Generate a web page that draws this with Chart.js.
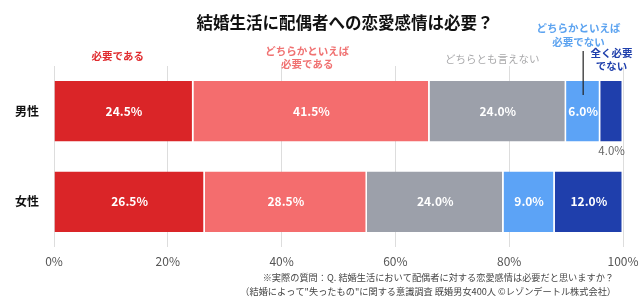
<!DOCTYPE html>
<html><head><meta charset="utf-8">
<script src="https://cdn.jsdelivr.net/npm/chart.js@4.4.1/dist/chart.umd.min.js"></script>
<style>html,body{margin:0;padding:0;background:#fff;}#wrap{width:640px;height:306px;position:relative;}</style>
</head><body><div id="wrap"><canvas id="c" width="640" height="306"></canvas></div>
<script>
const categories = ['男性', '女性'];
const seriesNames = ['必要である', 'どちらかといえば必要である', 'どちらとも言えない', 'どちらかといえば必要でない', '全く必要でない'];
const necessary = [24.5, 26.5];
const ratherNecessary = [41.5, 28.5];
const neither = [24.0, 24.0];
const ratherUnnecessary = [6.0, 9.0];
const notAtAll = [4.0, 12.0];
const tickValues = [0, 20, 40, 60, 80, 100];
const titleText = '結婚生活に配偶者への恋愛感情は必要？';
const noteLines = ['※実際の質問：Q. 結婚生活において配偶者に対する恋愛感情は必要だと思いますか？',
  '（結婚によって"失ったもの"に関する意識調査 既婚男女400人 ©レゾンデートル株式会社）'];

const colors = ['#da2528', '#f46d6e', '#9ca0aa', '#5ca3f6', '#1f3fac'];
const headerColors = ['#e02a2d', '#f07272', '#a9a9ab', '#5ca3f0', '#1f3fac'];
const FONT = '"Noto Sans CJK JP", "Noto Sans", sans-serif';

const seriesValues = [necessary, ratherNecessary, neither, ratherUnnecessary, notAtAll];

const datasets = seriesValues.map((vals, i) => ({
  label: seriesNames[i],
  data: vals,
  backgroundColor: colors[i],
  borderColor: '#ffffff',
  borderWidth: {top: 0, bottom: 0, left: 0, right: 1.5},
  borderSkipped: false,
  barPercentage: 0.667,
  categoryPercentage: 1.0
}));

// header label layout (x in axis %, y in px)
const headerLayout = [
  {lines: ['必要である'], x: 11.2, y: [56]},
  {lines: ['どちらかといえば', '必要である'], x: 44.5, y: [51, 64]},
  {lines: ['どちらとも言えない'], x: 77.0, y: [59]},
  {lines: ['どちらかといえば', '必要でない'], x: 92.2, y: [28, 42]},
  {lines: ['全く必要', 'でない'], x: 98.0, y: [53, 66]}
];

const annot = {
  id: 'annot',
  afterDatasetsDraw(chart) {
    const ctx = chart.ctx;
    const xs = chart.scales.x;
    ctx.save();
    // title
    ctx.fillStyle = '#111';
    ctx.font = 'bold 16.5px ' + FONT;
    ctx.textAlign = 'center';
    ctx.textBaseline = 'middle';
    ctx.fillText(titleText, 345, 23);
    // headers
    headerLayout.forEach((h, i) => {
      ctx.fillStyle = headerColors[i];
      ctx.font = (i === 2 ? '' : 'bold ') + '10.5px ' + FONT;
      const px = xs.getPixelForValue(h.x);
      h.lines.forEach((ln, j) => ctx.fillText(ln, px, h.y[j]));
    });
    // pointer line to small segment
    const m3 = chart.getDatasetMeta(3).data[0];
    const cx = (m3.x + m3.base) / 2;
    ctx.strokeStyle = '#222';
    ctx.lineWidth = 1.2;
    ctx.beginPath();
    ctx.moveTo(cx, 51);
    ctx.lineTo(cx, 95);
    ctx.stroke();
    // value labels
    chart.data.datasets.forEach((ds, di) => {
      const meta = chart.getDatasetMeta(di);
      meta.data.forEach((bar, k) => {
        const v = ds.data[k];
        const txt = v.toFixed(1) + '%';
        const cxx = (bar.x + bar.base) / 2;
        if (v < 5) {
          ctx.fillStyle = '#666';
          ctx.font = '11.5px ' + FONT;
          ctx.fillText(txt, cxx, bar.y + bar.height / 2 + 9);
        } else {
          ctx.fillStyle = '#ffffff';
          ctx.font = 'bold 12px ' + FONT;
          ctx.fillText(txt, cxx, bar.y);
        }
      });
    });
    // footnotes
    ctx.fillStyle = '#444';
    ctx.font = '9.2px ' + FONT;
    ctx.textAlign = 'right';
    ctx.fillText(noteLines[0], 614, 278);
    ctx.fillText(noteLines[1], 616, 292);
    ctx.restore();
  }
};

new Chart(document.getElementById('c'), {
  type: 'bar',
  data: {labels: categories, datasets},
  options: {
    indexAxis: 'y',
    responsive: false,
    animation: false,
    devicePixelRatio: 1,
    layout: {padding: {top: 66, right: 17, left: 0, bottom: 0}},
    plugins: {legend: {display: false}, tooltip: {enabled: false}, title: {display: false}},
    scales: {
      x: {
        stacked: true, min: 0, max: 100,
        afterBuildTicks(scale) { scale.ticks = tickValues.map(v => ({value: v})); },
        afterFit(scale) { scale.height = 59; scale.paddingRight = 0; scale.paddingLeft = 0; },
        grid: {color: '#dddddd', lineWidth: 1, drawTicks: false},
        border: {display: false},
        ticks: {padding: 7, color: '#555', font: {family: FONT, size: 12}, callback: v => v + '%'}
      },
      y: {
        stacked: true,
        afterFit(scale) { scale.width = 54; },
        grid: {display: false},
        border: {display: false},
        ticks: {padding: 7, color: '#111', font: {family: FONT, size: 12, weight: 'bold'}}
      }
    }
  },
  plugins: [annot]
});
</script></body></html>
